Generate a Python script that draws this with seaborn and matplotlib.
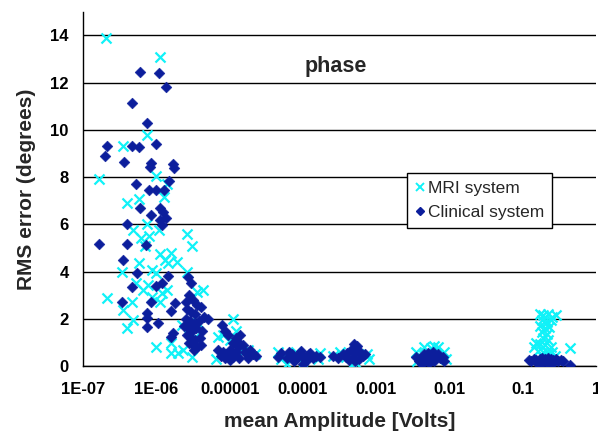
import matplotlib
matplotlib.use("Agg")
import matplotlib.pyplot as plt
import seaborn as sns
import pandas as pd
from matplotlib.lines import Line2D

# ---------------- data ----------------
mri_x = [
    2.06e-7, 1.12e-6, 7.5e-7, 3.5e-7, 1.65e-7, 9.9e-7, 1.4e-6, 1.28e-6, 5.8e-7, 4.0e-7,
    7.5e-7, 4.8e-7, 6.2e-7, 7.9e-7, 1.09e-6, 2.6e-6, 3.1e-6, 7.0e-7, 1.12e-6, 1.6e-6,
    1.3e-6, 1.44e-6, 1.9e-6, 5.8e-7, 3.4e-7, 8.8e-7, 1.0e-6, 2.6e-6, 5.3e-7, 7.7e-7,
    6.6e-7, 1.2e-6, 1.4e-6, 3.6e-6, 4.3e-6, 8.8e-7, 2.1e-7, 4.66e-7, 1.12e-6, 3.5e-7,
    4.8e-7, 4.0e-7, 9.9e-7, 1.6e-6, 2.0e-6, 3.1e-6, 2.3e-6,
    3.2e-6, 3.7e-6, 3.4e-6, 2.8e-6, 2.2e-6, 1.6e-6,
    1.1e-5, 6.9e-6, 8.0e-6, 1.2e-5, 1.0e-5, 6.5e-6, 1.8e-5, 2.2e-5, 1.5e-5, 7.5e-6,
    4.5e-5, 5.0e-5, 1.0e-4, 1.6e-4, 1.7e-4, 8.0e-5, 6.0e-5,
    2.6e-4, 3.2e-4, 4.5e-4, 5.5e-4, 7.5e-4, 8.0e-4, 3.8e-4,
    4.5e-3, 5.5e-3, 7.0e-3, 8.5e-3, 3.5e-3, 6.2e-3, 9.0e-3, 3.6e-3,
    0.17, 0.19, 0.22, 0.25, 0.28, 0.18, 0.21, 0.24, 0.17, 0.20,
    0.23, 0.18, 0.21, 0.19, 0.22, 0.15, 0.17, 0.20, 0.24, 0.14,
    0.16, 0.19, 0.22, 0.25, 0.18, 0.44, 0.20, 0.27,
]
mri_y = [
    13.9, 13.07, 9.8, 9.33, 7.93, 8.06, 7.72, 7.17, 7.09, 6.92,
    6.02, 5.77, 5.43, 5.52, 5.77, 5.6, 5.09, 5.09, 4.75, 4.79,
    4.5, 4.37, 4.41, 4.37, 3.99, 4.07, 3.95, 3.99, 3.52, 3.44,
    3.22, 3.1, 3.22, 3.14, 3.22, 2.93, 2.88, 2.72, 2.72, 2.38,
    1.95, 1.61, 0.81, 0.55, 0.55, 0.38, 0.68,
    2.93, 1.82, 1.23, 1.65, 1.74, 0.98,
    2.0, 1.23, 1.3, 1.5, 1.1, 0.3, 0.7, 0.5, 0.6, 0.5,
    0.6, 0.3, 0.15, 0.3, 0.55, 0.6, 0.1,
    0.45, 0.6, 0.05, 0.1, 0.5, 0.3, 0.4,
    0.8, 0.75, 0.8, 0.6, 0.6, 0.85, 0.3, 0.2,
    2.2, 2.15, 2.2, 2.1, 2.15, 1.95, 1.85, 1.95, 1.7, 1.6,
    1.65, 1.45, 1.35, 1.2, 1.1, 1.0, 0.95, 0.9, 0.8, 0.8,
    0.65, 0.6, 0.55, 0.6, 0.45, 0.76, 0.3, 0.45,
]

clin_x = [
    6.0e-7, 1.09e-6, 1.35e-6, 4.66e-7, 7.5e-7,
    2.1e-7, 4.66e-7, 5.8e-7, 9.9e-7, 2.0e-7, 3.6e-7, 8.5e-7, 8.2e-7, 1.69e-6, 1.73e-6,
    1.49e-6, 5.3e-7, 7.9e-7, 9.9e-7, 1.28e-6, 6.0e-7, 1.12e-6, 1.23e-6, 8.5e-7, 1.12e-6,
    1.35e-6, 1.2e-6, 4.0e-7, 1.65e-7, 4.0e-7, 7.2e-7, 3.5e-7, 5.5e-7, 1.44e-6, 2.7e-6,
    3.0e-6, 4.66e-7, 1.0e-6, 1.2e-6, 3.4e-7, 8.5e-7, 1.8e-6, 2.5e-6, 7.5e-7, 1.6e-6,
    7.5e-7, 1.05e-6, 7.5e-7, 1.6e-6, 1.7e-6,
    2.8e-6, 3.2e-6, 3.6e-6, 2.6e-6, 3.0e-6, 3.4e-6, 4.0e-6, 4.5e-6, 2.5e-6, 2.9e-6,
    3.3e-6, 3.8e-6, 2.7e-6, 3.1e-6, 3.5e-6, 4.2e-6, 2.6e-6, 3.0e-6, 3.4e-6, 3.9e-6,
    2.8e-6, 3.2e-6, 3.6e-6, 4.0e-6, 3.3e-6, 2.4e-6, 5.0e-6,
    7.9e-6, 8.5e-6, 9.5e-6, 1.4e-5, 1.2e-5, 1.1e-5, 7.0e-6, 8.0e-6, 9.0e-6, 1.0e-5,
    1.1e-5, 1.2e-5, 1.3e-5, 1.5e-5, 1.6e-5, 1.7e-5, 1.9e-5, 2.1e-5, 2.3e-5, 1.0e-5,
    8.5e-6, 1.35e-5, 7.5e-6, 1.8e-5, 1.25e-5,
    4.5e-5, 5.0e-5, 6.0e-5, 7.0e-5, 8.0e-5, 9.0e-5, 1.0e-4, 1.1e-4, 1.2e-4, 1.35e-4,
    1.5e-4, 1.7e-4, 6.5e-5, 1.0e-4, 7.5e-5, 1.25e-4, 9.5e-5,
    2.6e-4, 3.0e-4, 3.5e-4, 4.0e-4, 4.5e-4, 5.0e-4, 5.5e-4, 4.8e-4, 5.2e-4, 6.0e-4,
    6.5e-4, 7.0e-4, 5.8e-4, 4.3e-4, 3.8e-4, 5.3e-4,
    3.5e-3, 4.0e-3, 4.5e-3, 5.0e-3, 5.5e-3, 6.0e-3, 6.5e-3, 7.0e-3, 7.5e-3, 8.0e-3,
    4.2e-3, 5.2e-3, 6.2e-3, 3.8e-3, 5.8e-3, 8.5e-3, 4.8e-3,
    0.12, 0.13, 0.14, 0.15, 0.16, 0.17, 0.18, 0.19, 0.20, 0.22,
    0.24, 0.26, 0.28, 0.30, 0.33, 0.35, 0.44, 0.17, 0.21, 0.25,
]
clin_y = [
    12.47, 12.39, 11.8, 11.16, 10.31,
    9.33, 9.33, 9.29, 9.42, 8.91, 8.65, 8.61, 8.44, 8.57, 8.4,
    7.85, 7.72, 7.47, 7.47, 7.47, 6.7, 6.7, 6.53, 6.4, 6.19,
    6.28, 5.98, 6.02, 5.18, 5.18, 5.13, 4.5, 3.95, 3.82, 3.78,
    3.52, 3.35, 3.39, 3.52, 2.72, 2.72, 2.67, 2.72, 2.25, 2.33,
    2.04, 1.82, 1.65, 1.23, 1.4,
    3.0, 2.8, 2.6, 2.4, 2.3, 2.2, 2.5, 2.1, 2.0, 1.9,
    1.8, 1.9, 1.6, 1.5, 1.6, 1.5, 1.3, 1.2, 1.1, 1.2,
    1.0, 0.9, 0.8, 0.9, 0.7, 1.7, 2.0,
    1.74, 1.5, 1.3, 1.31, 1.2, 1.0, 0.7, 0.6, 0.5, 0.7,
    0.4, 0.6, 0.8, 0.9, 0.6, 0.5, 0.7, 0.5, 0.45, 0.25,
    0.35, 0.35, 0.45, 0.35, 1.05,
    0.4, 0.55, 0.35, 0.5, 0.3, 0.55, 0.4, 0.2, 0.5, 0.35,
    0.45, 0.4, 0.6, 0.1, 0.2, 0.55, 0.65,
    0.45, 0.35, 0.5, 0.55, 0.7, 0.95, 0.85, 0.35, 0.2, 0.6,
    0.45, 0.5, 0.3, 0.25, 0.4, 0.6,
    0.4, 0.3, 0.5, 0.55, 0.4, 0.6, 0.45, 0.5, 0.35, 0.4,
    0.1, 0.15, 0.2, 0.2, 0.25, 0.2, 0.35,
    0.25, 0.2, 0.3, 0.25, 0.1, 0.3, 0.35, 0.2, 0.3, 0.35,
    0.3, 0.25, 0.3, 0.2, 0.25, 0.2, 0.04, 0.05, 0.15, 0.1,
]

series_names = ["MRI system", "Clinical system"]
x_ticks = [1e-7, 1e-6, 1e-5, 1e-4, 1e-3, 1e-2, 1e-1, 1]
x_tick_labels = ["1E-07", "1E-06", "0.00001", "0.0001", "0.001", "0.01", "0.1", "1"]
y_ticks = [0, 2, 4, 6, 8, 10, 12, 14]

# ---------------- styling ----------------
sns.set_style("white")
plt.rcParams["font.family"] = ["Liberation Sans", "DejaVu Sans"]

CYAN = "#10f2f8"
NAVY = "#0c1e9c"

df_mri = pd.DataFrame({"amp": mri_x, "rms": mri_y})
df_clin = pd.DataFrame({"amp": clin_x, "rms": clin_y})

fig = plt.figure(figsize=(5.98, 4.38), dpi=100)
ax = fig.add_axes([0.139, 0.164, 0.858, 0.809])

sns.scatterplot(data=df_mri, x="amp", y="rms", marker="x", color=CYAN,
                s=52, linewidth=1.6, ax=ax, zorder=3)
sns.scatterplot(data=df_clin, x="amp", y="rms", marker="D", color=NAVY,
                s=30, linewidth=0.4, edgecolor=NAVY, ax=ax, zorder=4)

ax.set_xscale("log")
ax.set_xlim(1e-7, 1)
ax.set_ylim(0, 15)
ax.set_xticks(x_ticks)
ax.set_xticklabels(x_tick_labels)
ax.minorticks_off()
ax.set_yticks(y_ticks)

ax.yaxis.grid(True, color="black", linewidth=1.0)
ax.xaxis.grid(False)
ax.set_axisbelow(True)

for side in ["top", "right"]:
    ax.spines[side].set_visible(False)
for side in ["left", "bottom"]:
    ax.spines[side].set_color("black")
    ax.spines[side].set_linewidth(1.0)

ax.tick_params(axis="y", which="both", direction="out", length=3.5, width=1,
               pad=7, labelsize=12, colors="black")
ax.tick_params(axis="x", which="both", direction="out", length=4.5, width=1,
               pad=7, labelsize=12, colors="black")
for lab in ax.get_xticklabels() + ax.get_yticklabels():
    lab.set_fontweight("bold")

ax.set_xlabel("mean Amplitude [Volts]", fontsize=15, fontweight="bold", labelpad=11)
ax.set_ylabel("RMS error (degrees)", fontsize=15, fontweight="bold", labelpad=10)

ax.text(0.493, 0.845, "phase", transform=ax.transAxes, ha="center", va="center",
        fontsize=15.5, fontweight="bold")

handles = [
    Line2D([], [], linestyle="none", marker="x", color=CYAN, markersize=5.5, markeredgewidth=1.4),
    Line2D([], [], linestyle="none", marker="D", color=NAVY, markersize=4),
]
leg = ax.legend(handles, series_names, loc="upper left", bbox_to_anchor=(0.632, 0.545),
                borderaxespad=0, frameon=True, fancybox=False, edgecolor="black",
                framealpha=1, fontsize=12.5, handlelength=0.5, handletextpad=0.25,
                borderpad=0.45, labelspacing=0.5)
leg.get_frame().set_linewidth(1.0)

fig.savefig("out.png", dpi=100)
